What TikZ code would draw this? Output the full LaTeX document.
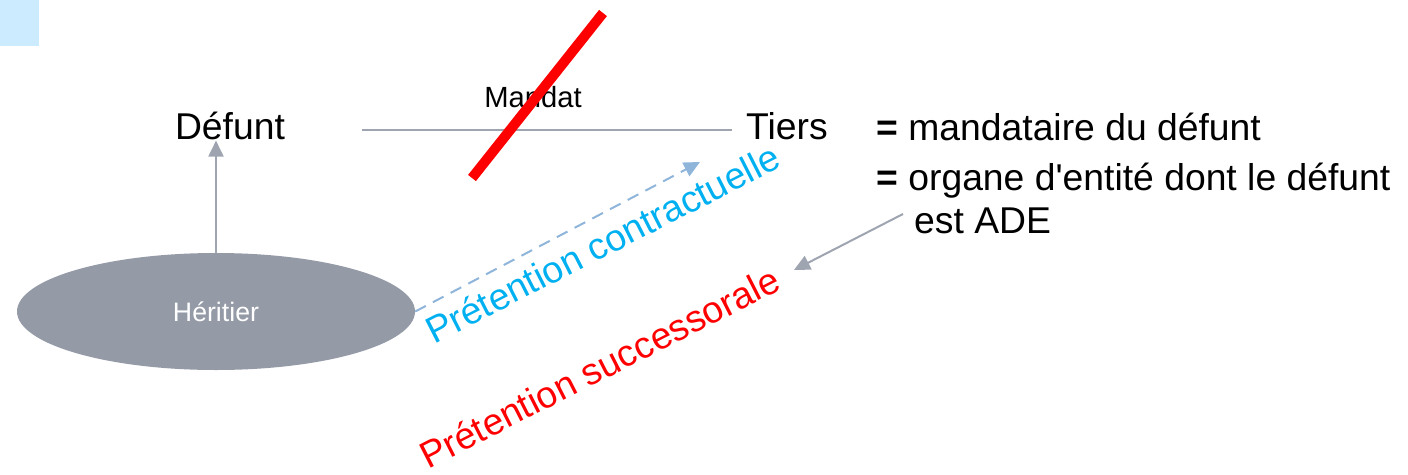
\documentclass[tikz,border=0pt]{standalone}
\usepackage{fontspec}
\setmainfont{Liberation Sans}
\newfontfamily\rawsans{Liberation Sans}[Ligatures=TeXOff]
\usetikzlibrary{arrows.meta,shapes.geometric}
\definecolor{cornerblue}{HTML}{CCEBFF}
\definecolor{ovalgray}{HTML}{949AA6}
\definecolor{linegray}{HTML}{9EA4B0}
\definecolor{dashblue}{HTML}{8FB5DB}
\definecolor{claimblue}{HTML}{00B0F0}
\definecolor{claimred}{HTML}{FF0000}
\tikzset{
  big/.style={font=\fontsize{37.3}{44}\selectfont, inner sep=1pt},
  partybox/.style={big, text=black},
  oval/.style={ellipse, fill=ovalgray, draw=none, minimum width=398pt, minimum height=117pt, inner sep=0pt,
    text=white, font=\fontsize{26.7}{32}\selectfont},
  grayarrow/.style={draw=linegray, line width=2pt, -{Triangle[length=16pt,width=15pt]}},
  dasharrow/.style={draw=dashblue, line width=2pt, dash pattern=on 12pt off 8pt, -{Triangle[length=16pt,width=15pt]}},
  claim/.style={big, rotate=27, anchor=base west},
}
\begin{document}
\begin{tikzpicture}[x=1pt,y=-1pt]
\useasboundingbox (0,0) rectangle (1408,474);
% corner tab
\fill[cornerblue] (0,0) rectangle (39,46);

% parties
\node[partybox, anchor=base] (defunt) at (230,139) {Défunt};
\node[partybox, anchor=base west] (tiers) at (745,139) {Tiers};
\node[oval] (heritier) at (216,311.5) {Héritier};

% qualifications of the third party
\node[big, anchor=base west] (q1) at (875,140) {\textbf{=} mandataire du défunt};
\node[big, anchor=base west] (q2) at (875,190) {\textbf{=} organe d{\rawsans'}entité dont le défunt};
\node[big, anchor=base west] (q3) at (913,233) {est ADE};

% mandate link, struck out
\coordinate (mL) at (362,129.5);
\coordinate (mR) at (732,129.5);
\draw[linegray, line width=2pt] (mL) -- (mR);
\node[font=\fontsize{29.2}{34}\selectfont, inner sep=0pt, anchor=base] (mandat) at (533,107) {Mandat};
\coordinate (xA) at (472,178);
\coordinate (xB) at (603,13);
\draw[claimred, line width=10pt] (xA) -- (xB);

% heir to deceased
\draw[grayarrow] (heritier.north) -- (heritier.north |- defunt.south);

% contractual claim
\coordinate (cTip) at (700,162);
\draw[dasharrow] (heritier.east) -- (cTip);
\node[claim, text=claimblue] (contract) at (433,345) {Prétention contractuelle};

% succession claim
\coordinate (sFrom) at (903,214);
\coordinate (sTip) at (794,270);
\draw[grayarrow] (sFrom) -- (sTip);
\node[claim, text=claimred] (succ) at (427,470) {Prétention successorale};
\end{tikzpicture}
\end{document}
